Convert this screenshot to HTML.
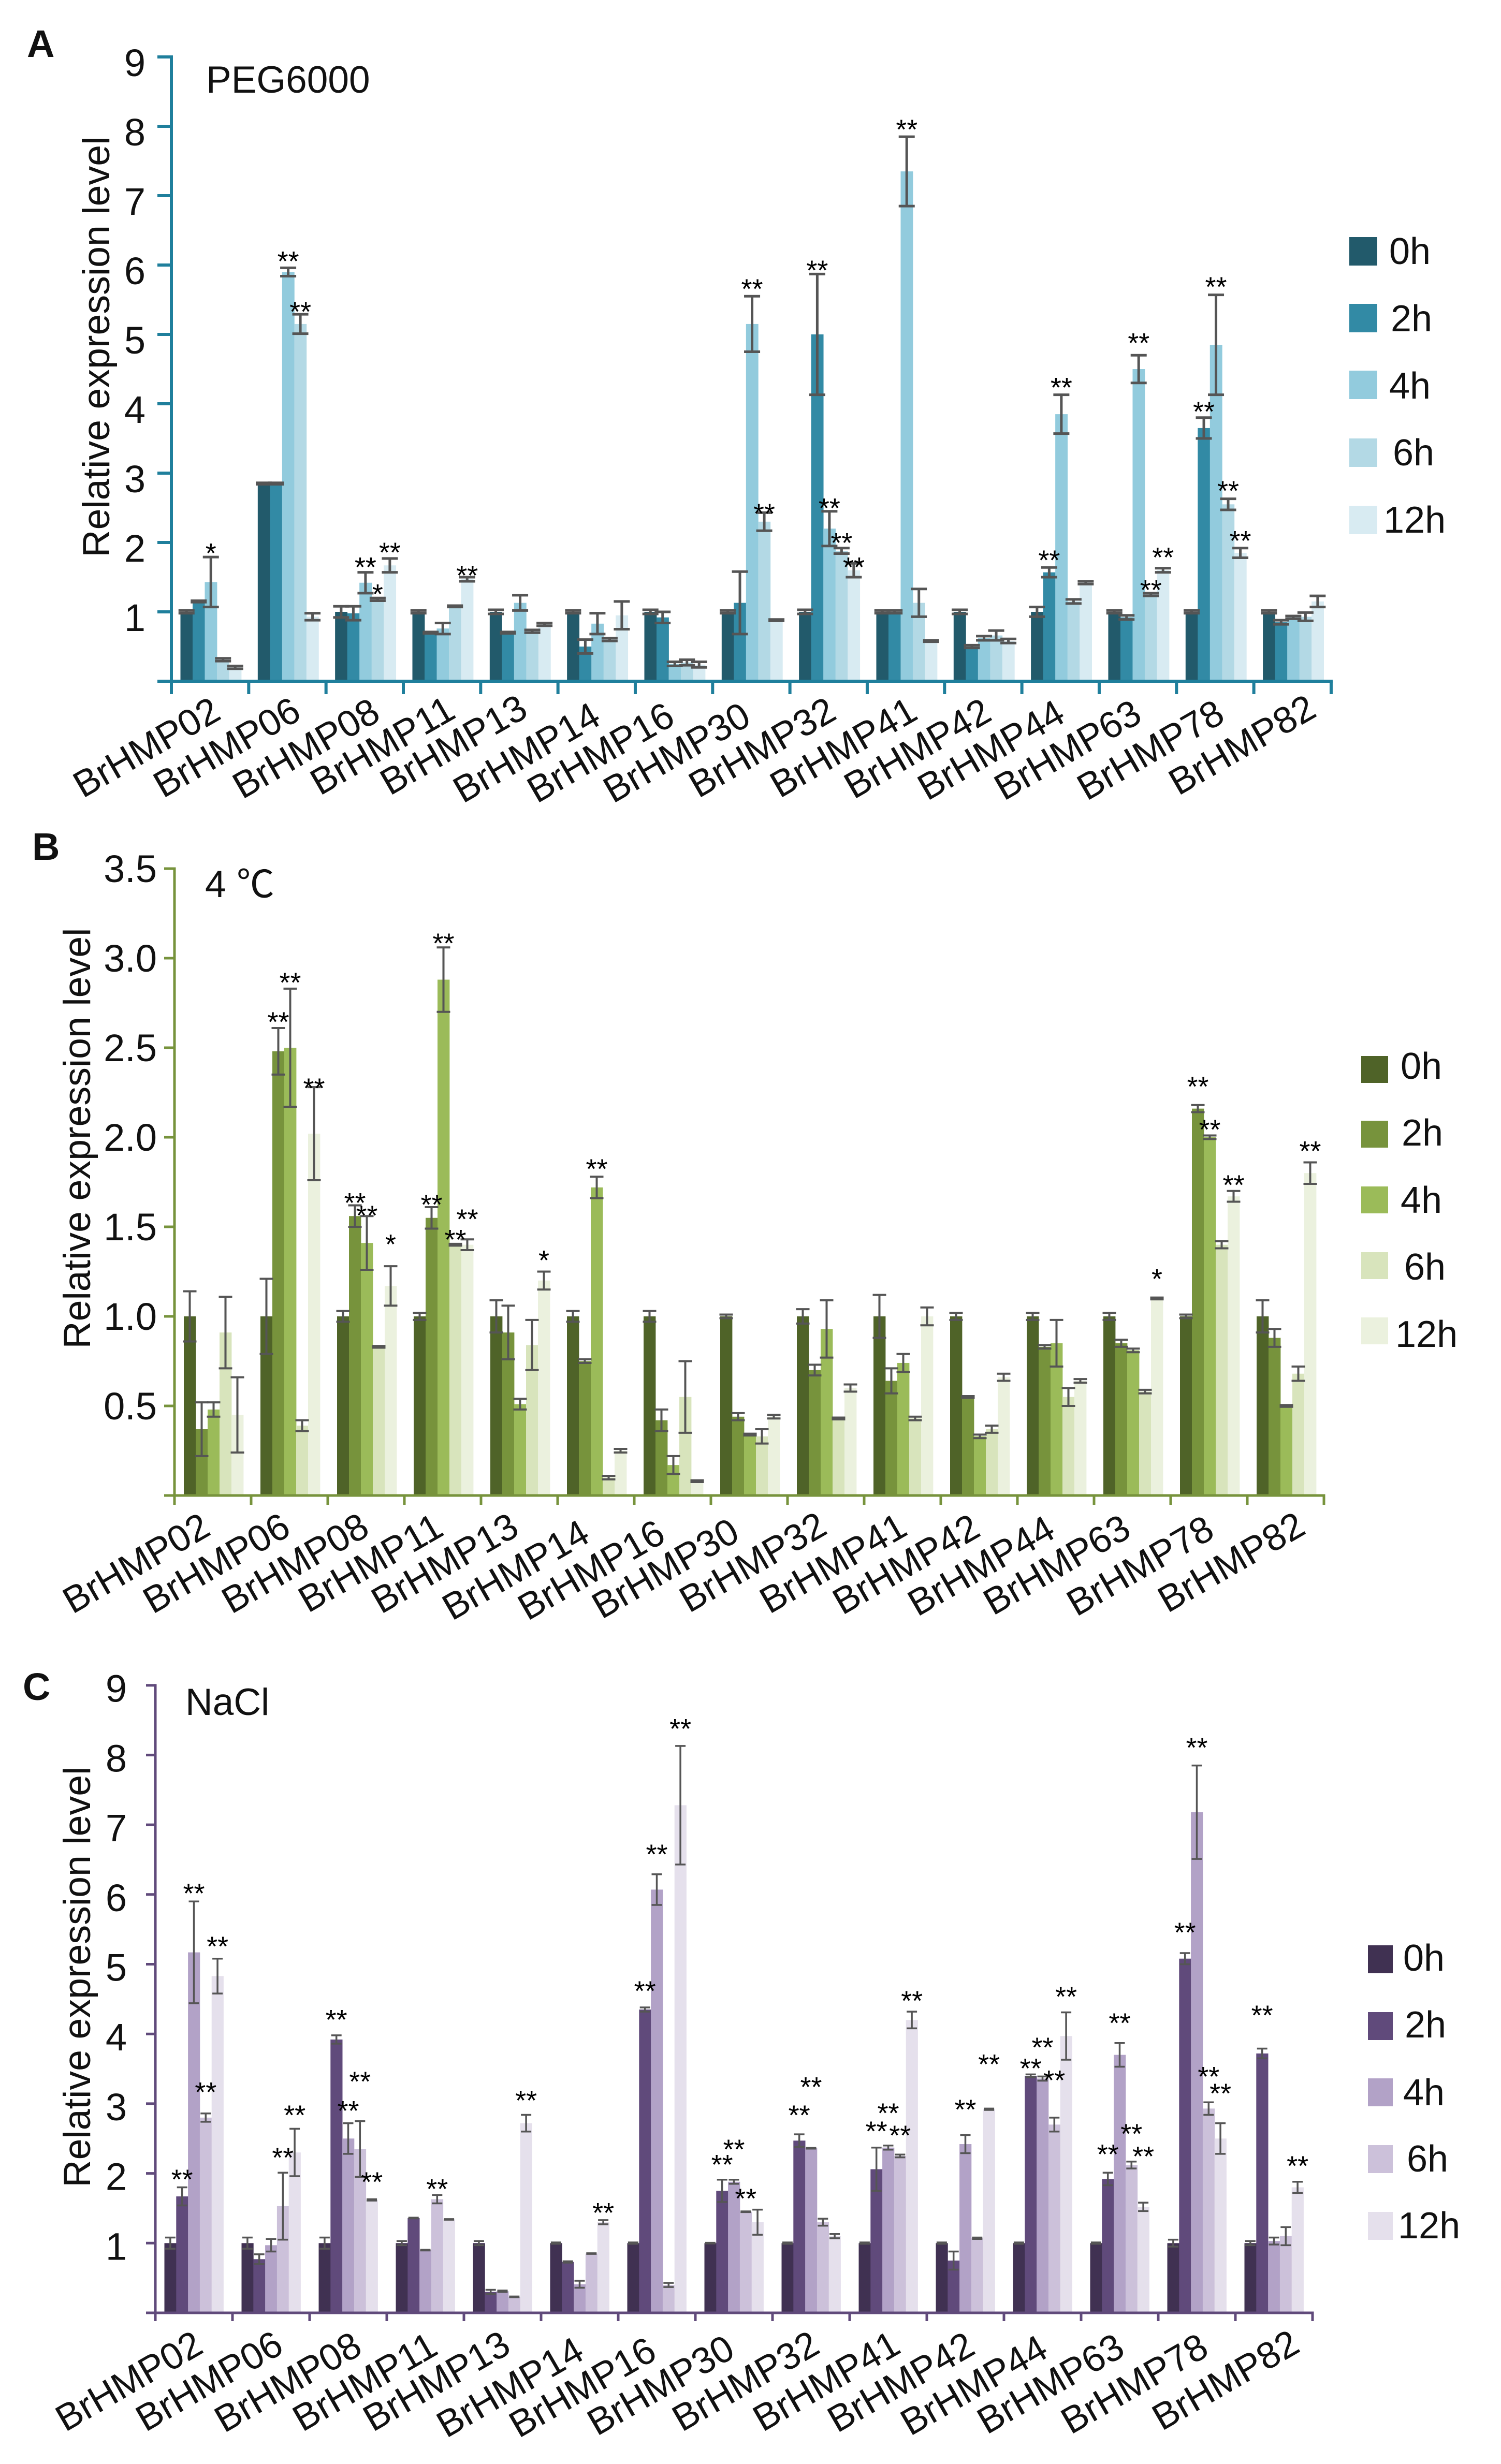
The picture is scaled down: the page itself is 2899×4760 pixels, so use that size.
<!DOCTYPE html>
<html lang="en">
<head>
<meta charset="utf-8">
<title>BrHMP relative expression under PEG6000, 4 °C and NaCl</title>
<style>
html,body{margin:0;padding:0;background:#fff;width:2899px;height:4760px;overflow:hidden}
svg{display:block;font-family:"Liberation Sans","Noto Sans CJK SC",sans-serif;fill:#111}
</style>
</head>
<body>
<svg id="figure" xmlns="http://www.w3.org/2000/svg" width="2899" height="4760" viewBox="0 0 2899 4760">
<rect width="2899" height="4760" fill="#fff"/>

<g font-weight="bold" font-size="74">
<text x="52" y="110">A</text>
<text x="62" y="1661">B</text>
<text x="44" y="3284">C</text>
</g>

<g font-size="73">
<text x="398" y="179">PEG6000</text>
<text x="396" y="1733">4 ℃</text>
<text x="358" y="3313">NaCl</text>
</g>

<g font-size="73.5" text-anchor="middle">
<text transform="translate(211 670) rotate(-90)">Relative expression level</text>
<text transform="translate(174 2199) rotate(-90)">Relative expression level</text>
<text transform="translate(174 3819) rotate(-90)">Relative expression level</text>
</g>

<g font-size="72">
<text transform="translate(160 1543) rotate(-30)">BrHMP02</text>
<text transform="translate(315 1543) rotate(-30)">BrHMP06</text>
<text transform="translate(468 1545) rotate(-30)">BrHMP08</text>
<text transform="translate(618 1538) rotate(-30)">BrHMP11</text>
<text transform="translate(753 1538) rotate(-30)">BrHMP13</text>
<text transform="translate(894 1553) rotate(-30)">BrHMP14</text>
<text transform="translate(1037 1553) rotate(-30)">BrHMP16</text>
<text transform="translate(1184 1553) rotate(-30)">BrHMP30</text>
<text transform="translate(1349 1543) rotate(-30)">BrHMP32</text>
<text transform="translate(1506 1543) rotate(-30)">BrHMP41</text>
<text transform="translate(1649 1545) rotate(-30)">BrHMP42</text>
<text transform="translate(1791 1548) rotate(-30)">BrHMP44</text>
<text transform="translate(1939 1548) rotate(-30)">BrHMP63</text>
<text transform="translate(2099 1548) rotate(-30)">BrHMP78</text>
<text transform="translate(2276 1538) rotate(-30)">BrHMP82</text>
</g>

<g font-size="72">
<text transform="translate(140 3119) rotate(-30)">BrHMP02</text>
<text transform="translate(295 3119) rotate(-30)">BrHMP06</text>
<text transform="translate(447 3119) rotate(-30)">BrHMP08</text>
<text transform="translate(595 3117) rotate(-30)">BrHMP11</text>
<text transform="translate(736 3119) rotate(-30)">BrHMP13</text>
<text transform="translate(873 3132) rotate(-30)">BrHMP14</text>
<text transform="translate(1019 3132) rotate(-30)">BrHMP16</text>
<text transform="translate(1162 3129) rotate(-30)">BrHMP30</text>
<text transform="translate(1331 3117) rotate(-30)">BrHMP32</text>
<text transform="translate(1486 3119) rotate(-30)">BrHMP41</text>
<text transform="translate(1627 3121) rotate(-30)">BrHMP42</text>
<text transform="translate(1772 3124) rotate(-30)">BrHMP44</text>
<text transform="translate(1918 3122) rotate(-30)">BrHMP63</text>
<text transform="translate(2079 3124) rotate(-30)">BrHMP78</text>
<text transform="translate(2255 3117) rotate(-30)">BrHMP82</text>
</g>

<g font-size="72">
<text transform="translate(126 4699) rotate(-30)">BrHMP02</text>
<text transform="translate(281 4699) rotate(-30)">BrHMP06</text>
<text transform="translate(433 4701) rotate(-30)">BrHMP08</text>
<text transform="translate(584 4699) rotate(-30)">BrHMP11</text>
<text transform="translate(720 4699) rotate(-30)">BrHMP13</text>
<text transform="translate(862 4711) rotate(-30)">BrHMP14</text>
<text transform="translate(1002 4711) rotate(-30)">BrHMP16</text>
<text transform="translate(1153 4707) rotate(-30)">BrHMP30</text>
<text transform="translate(1317 4699) rotate(-30)">BrHMP32</text>
<text transform="translate(1473 4699) rotate(-30)">BrHMP41</text>
<text transform="translate(1617 4701) rotate(-30)">BrHMP42</text>
<text transform="translate(1758 4707) rotate(-30)">BrHMP44</text>
<text transform="translate(1906 4704) rotate(-30)">BrHMP63</text>
<text transform="translate(2068 4704) rotate(-30)">BrHMP78</text>
<text transform="translate(2244 4697) rotate(-30)">BrHMP82</text>
</g>

<g font-size="72">
<rect x="2606" y="458" width="54" height="55" fill="#225a6b"/>
<rect x="2606" y="587" width="54" height="55" fill="#328aa5"/>
<rect x="2606" y="716" width="54" height="55" fill="#92cbdd"/>
<rect x="2606" y="847" width="54" height="55" fill="#b3d9e5"/>
<rect x="2606" y="977" width="54" height="55" fill="#d8ebf2"/>
<text x="2683" y="510">0h</text>
<text x="2686" y="640">2h</text>
<text x="2683" y="770">4h</text>
<text x="2690" y="899">6h</text>
<text x="2672" y="1029">12h</text>
</g>

<g font-size="72">
<rect x="2629" y="2040" width="52" height="52" fill="#4f6328"/>
<rect x="2629" y="2165" width="52" height="52" fill="#77933c"/>
<rect x="2629" y="2292" width="52" height="52" fill="#9bbb59"/>
<rect x="2629" y="2419" width="52" height="52" fill="#d8e4bc"/>
<rect x="2629" y="2545" width="52" height="52" fill="#ebf1de"/>
<text x="2705" y="2084">0h</text>
<text x="2707" y="2213">2h</text>
<text x="2705" y="2343">4h</text>
<text x="2712" y="2472">6h</text>
<text x="2695" y="2602">12h</text>
</g>

<g font-size="72">
<rect x="2642" y="3758" width="48" height="54" fill="#403152"/>
<rect x="2642" y="3887" width="48" height="54" fill="#604a7b"/>
<rect x="2642" y="4015" width="48" height="54" fill="#b2a2c7"/>
<rect x="2642" y="4144" width="48" height="54" fill="#ccc1da"/>
<rect x="2642" y="4273" width="48" height="54" fill="#e5e0ec"/>
<text x="2710" y="3807">0h</text>
<text x="2713" y="3936">2h</text>
<text x="2710" y="4067">4h</text>
<text x="2717" y="4195">6h</text>
<text x="2700" y="4324">12h</text>
</g>

<g id="charts"></g>
</svg>

<script>
// Shared category and tick data
const categories = ['BrHMP02','BrHMP06','BrHMP08','BrHMP11','BrHMP13','BrHMP14','BrHMP16','BrHMP30','BrHMP32','BrHMP41','BrHMP42','BrHMP44','BrHMP63','BrHMP78','BrHMP82'];
const timePoints = ['0h','2h','4h','6h','12h'];
const pegTicks = ['1','2','3','4','5','6','7','8','9'];
const coldTicks = ['0.5','1.0','1.5','2.0','2.5','3.0','3.5'];
const saltTicks = ['1','2','3','4','5','6','7','8','9'];

// Panel A: PEG6000
const peg0h = [1,2.85,1,1,1,1,1,1,1,1,1,1,1,1,1];
const peg2h = [1.15,2.85,.98,.7,.7,.5,.92,1.13,5,1,.5,1.57,.92,3.65,.85];
const peg4h = [1.43,5.9,1.42,.76,1.13,.83,.25,5.15,2.2,7.35,.62,3.85,4.5,4.85,.92];
const peg6h = [.31,5.15,1.18,1.08,.72,.6,.27,2.3,1.88,1.13,.66,1.15,1.25,2.55,.93];
const peg12h = [.2,.93,1.67,1.47,.82,.95,.24,.88,1.6,.58,.58,1.42,1.6,1.85,1.15];
const pegErr0h = [.02,.01,.08,.02,.03,.02,.03,.02,.03,.02,.03,.07,.02,.02,.02];
const pegErr2h = [.01,.01,.1,.01,.01,.1,.08,.45,.87,.02,.02,.07,.03,.15,.03];
const pegErr4h = [.36,.06,.15,.08,.11,.15,.03,.4,.25,.5,.03,.28,.2,.72,.02];
const pegErr6h = [.02,.14,.02,.01,.02,.02,.04,.13,.04,.2,.07,.03,.02,.08,.06];
const pegErr12h = [.02,.05,.1,.03,.02,.2,.04,.01,.1,.01,.03,.02,.03,.07,.08];
// [gene index, time index, label, distance above error cap in data units]
const pegStars = [[0,2,'*',.15],[1,2,'**',.19],[1,3,'**',.13],[2,2,'**',.17],[2,3,'*',.15],[2,4,'**',.18],[3,4,'**',.12],[7,2,'**',.2],[7,3,'**',.08],[8,1,'**',.15],[8,2,'**',.14],[8,3,'**',.17],[8,4,'**',.04],[9,2,'**',.2],[11,1,'**',.2],[11,2,'**',.2],[12,2,'**',.27],[12,3,'**',.14],[12,4,'**',.25],[13,1,'**',.18],[13,2,'**',.21],[13,3,'**',.21],[13,4,'**',.2]];

// Panel B: 4 C
const cold0h = [1,1,1,1,1,1,1,1,1,1,1,1,1,1,1];
const cold2h = [.37,2.48,1.56,1.55,.91,.75,.42,.44,.7,.64,.55,.83,.85,2.16,.88];
const cold4h = [.48,2.5,1.41,2.88,.51,1.72,.17,.34,.93,.74,.33,.85,.81,2,.5];
const cold6h = [.91,.39,.83,1.4,.84,.1,.55,.33,.43,.43,.37,.55,.58,1.4,.68];
const cold12h = [.45,2.02,1.17,1.4,1.2,.25,.08,.44,.6,1,.66,.64,1.1,1.67,1.8];
const coldErr0h = [.14,.21,.03,.02,.09,.03,.03,.01,.04,.12,.02,.02,.02,.01,.09];
const coldErr2h = [.15,.13,.06,.06,.15,.01,.06,.02,.03,.07,.005,.01,.02,.02,.05];
const coldErr4h = [.04,.33,.15,.18,.03,.06,.05,.005,.16,.05,.01,.13,.01,.01,.005];
const coldErr6h = [.2,.03,.005,.005,.14,.01,.2,.04,.005,.01,.02,.05,.01,.02,.04];
const coldErr12h = [.21,.26,.11,.03,.05,.01,.005,.01,.02,.05,.02,.01,.005,.03,.06];
const coldStars = [[1,1,'**',.07],[1,2,'**',.07],[1,4,'**',.03],[2,1,'**',.05],[2,2,'**',.04],[2,4,'*',.16],[3,1,'**',.05],[3,2,'**',.06],[3,3,'**',.06],[3,4,'**',.15],[4,4,'*',.1],[5,2,'**',.08],[12,4,'*',.14],[13,1,'**',.14],[13,2,'**',.07],[13,4,'**',.07],[14,4,'**',.1]];

// Panel C: NaCl
const salt0h = [1,1,1,1,1,1,1,1,1,1,1,1,1,1,1];
const salt2h = [1.67,.77,3.92,1.36,.3,.73,4.35,1.75,2.47,2.06,.75,3.4,1.92,5.08,3.72];
const salt4h = [5.17,.97,2.5,.9,.31,.41,6.07,1.88,2.36,2.37,2.42,3.36,3.7,7.18,1.03];
const salt6h = [2.8,1.53,2.35,1.63,.23,.85,.4,1.45,1.3,2.25,1.07,2.7,2.12,2.93,1.1];
const salt12h = [4.83,2.3,1.62,1.34,2.72,1.3,7.28,1.3,1.1,4.2,2.92,3.97,1.52,2.5,1.8];
const saltErr0h = [.08,.08,.08,.03,.03,.01,.01,.005,.01,.01,.01,.01,.01,.05,.03];
const saltErr2h = [.13,.07,.06,.005,.03,.01,.03,.16,.09,.31,.13,.02,.09,.08,.07];
const saltErr4h = [.73,.09,.22,.005,.01,.05,.22,.03,.005,.03,.13,.03,.17,.67,.05];
const saltErr6h = [.06,.48,.4,.06,.005,.005,.03,.005,.05,.02,.01,.1,.05,.09,.13];
const saltErr12h = [.25,.34,.01,.005,.12,.03,.85,.18,.03,.12,.01,.34,.06,.22,.08];
const saltStars = [[0,1,'**',.21],[0,2,'**',.21],[0,3,'**',.4],[0,4,'**',.27],[1,3,'**',.31],[1,4,'**',.29],[2,1,'**',.32],[2,2,'**',.27],[2,3,'**',.66],[2,4,'**',.34],[3,3,'**',.18],[4,4,'**',.3],[5,4,'**',.2],[6,1,'**',.33],[6,2,'**',.38],[6,4,'**',.34],[7,1,'**',.31],[7,2,'**',.53],[7,3,'**',.28],[8,1,'**',.37],[8,2,'**',.97],[9,1,'**',.33],[9,2,'**',.56],[9,3,'**',.37],[9,4,'**',.25],[10,2,'**',.46],[10,4,'**',.73],[11,1,'**',.18],[11,2,'**',.51],[11,3,'**',.63],[11,4,'**',.32],[12,1,'**',.36],[12,2,'**',.38],[12,3,'**',.49],[12,4,'**',.76],[13,1,'**',.39],[13,2,'**',.35],[13,3,'**',.46],[13,4,'**',.52],[14,1,'**',.57],[14,4,'**',.32]];

const SVG_NS = 'http://www.w3.org/2000/svg';
const root = document.getElementById('charts');

function make(parent, tag, attrs) {
  const el = document.createElementNS(SVG_NS, tag);
  Object.keys(attrs).forEach(function (k) { el.setAttribute(k, attrs[k]); });
  parent.appendChild(el);
  return el;
}

function drawPanel(p) {
  const xScale = function (i) { return p.originX + i * p.step; };
  const yScale = function (v) { return p.baseY - v * p.unit; };
  const barX = function (gene, t) { return xScale(gene) + p.barStart + t * p.barW; };

  const panel = make(root, 'g', {});
  
  

  p.series.forEach(function (values, t) {
    values.forEach(function (v, gene) {
      const bar = make(panel, 'rect', {
        x: barX(gene, t), y: yScale(v), width: p.barW + 0.4, height: p.baseY - yScale(v), fill: p.colors[t]
      });
      
      
    });
  });

  p.series.forEach(function (values, t) {
    values.forEach(function (v, gene) {
      const e = p.errors[t][gene];
      const cx = barX(gene, t) + p.barW / 2;
      const hi = yScale(v + e);
      const lo = yScale(v - e);
      const err = make(panel, 'path', {
        d: 'M' + (cx - p.capW / 2) + ' ' + hi + 'H' + (cx + p.capW / 2) +
           'M' + cx + ' ' + hi + 'V' + lo +
           'M' + (cx - p.capW / 2) + ' ' + lo + 'H' + (cx + p.capW / 2),
        stroke: '#555', 'stroke-width': p.errW, fill: 'none'
      });
      
      
    });
  });

  p.stars.forEach(function (s) {
    const v = p.series[s[1]][s[0]] + p.errors[s[1]][s[0]] + s[3];
    const star = make(panel, 'text', {
      x: barX(s[0], s[1]) + p.barW / 2, y: yScale(v) + 31, 'font-size': 54, 'text-anchor': 'middle', fill: '#000'
    });
    star.textContent = s[2];
    
    
  });

  const axisColor = p.axisColor;
  const yAxis = make(panel, 'line', {
    x1: p.originX, x2: p.originX, y1: yScale(p.maxTick) - p.axisW / 2, y2: p.baseY, stroke: axisColor, 'stroke-width': p.axisW
  });
  
  

  const xAxis = make(panel, 'line', {
    x1: p.originX - p.tickLeft, x2: xScale(categories.length) + p.axisW / 2, y1: p.baseY, y2: p.baseY, stroke: axisColor, 'stroke-width': p.axisW
  });
  
  

  for (let i = 0; i <= categories.length; i++) {
    const tick = make(panel, 'line', {
      x1: xScale(i), x2: xScale(i), y1: p.baseY, y2: p.baseY + p.tickDown, stroke: axisColor, 'stroke-width': p.axisW
    });
    
    
  }

  p.ticks.forEach(function (label) {
    const v = parseFloat(label);
    const tick = make(panel, 'line', {
      x1: p.originX - p.tickLeft, x2: p.originX, y1: yScale(v), y2: yScale(v), stroke: axisColor, 'stroke-width': p.axisW
    });
    
    
    const text = make(panel, 'text', {
      x: p.tickLabelX, y: yScale(v) + p.tickLabelDy, 'font-size': 74, 'text-anchor': 'end'
    });
    text.textContent = label;
    
    
  });
}

drawPanel({
  name: 'panel-a-peg6000',
  series: [peg0h, peg2h, peg4h, peg6h, peg12h],
  errors: [pegErr0h, pegErr2h, pegErr4h, pegErr6h, pegErr12h],
  stars: pegStars, ticks: pegTicks, maxTick: 9,
  colors: ['#225a6b', '#328aa5', '#92cbdd', '#b3d9e5', '#d8ebf2'],
  axisColor: '#1f7f9c', originX: 331, step: 149.33, baseY: 1316, unit: 134,
  barStart: 17.5, barW: 23.5, capW: 31, errW: 5, axisW: 6,
  tickLeft: 27, tickDown: 25, tickLabelX: 281, tickLabelDy: 37
});

drawPanel({
  name: 'panel-b-cold',
  series: [cold0h, cold2h, cold4h, cold6h, cold12h],
  errors: [coldErr0h, coldErr2h, coldErr4h, coldErr6h, coldErr12h],
  stars: coldStars, ticks: coldTicks, maxTick: 3.5,
  colors: ['#4f6328', '#77933c', '#9bbb59', '#d8e4bc', '#ebf1de'],
  axisColor: '#77933c', originX: 337, step: 148, baseY: 2889, unit: 346,
  barStart: 18, barW: 23, capW: 26, errW: 4, axisW: 5,
  tickLeft: 20, tickDown: 18, tickLabelX: 303, tickLabelDy: 26
});

drawPanel({
  name: 'panel-c-nacl',
  series: [salt0h, salt2h, salt4h, salt6h, salt12h],
  errors: [saltErr0h, saltErr2h, saltErr4h, saltErr6h, saltErr12h],
  stars: saltStars, ticks: saltTicks, maxTick: 9,
  colors: ['#403152', '#604a7b', '#b2a2c7', '#ccc1da', '#e5e0ec'],
  axisColor: '#604a7b', originX: 300, step: 149, baseY: 4468, unit: 134.7,
  barStart: 17.5, barW: 22.8, capW: 20, errW: 3.5, axisW: 5,
  tickLeft: 18, tickDown: 16, tickLabelX: 245, tickLabelDy: 32
});
</script>
</body>
</html>
